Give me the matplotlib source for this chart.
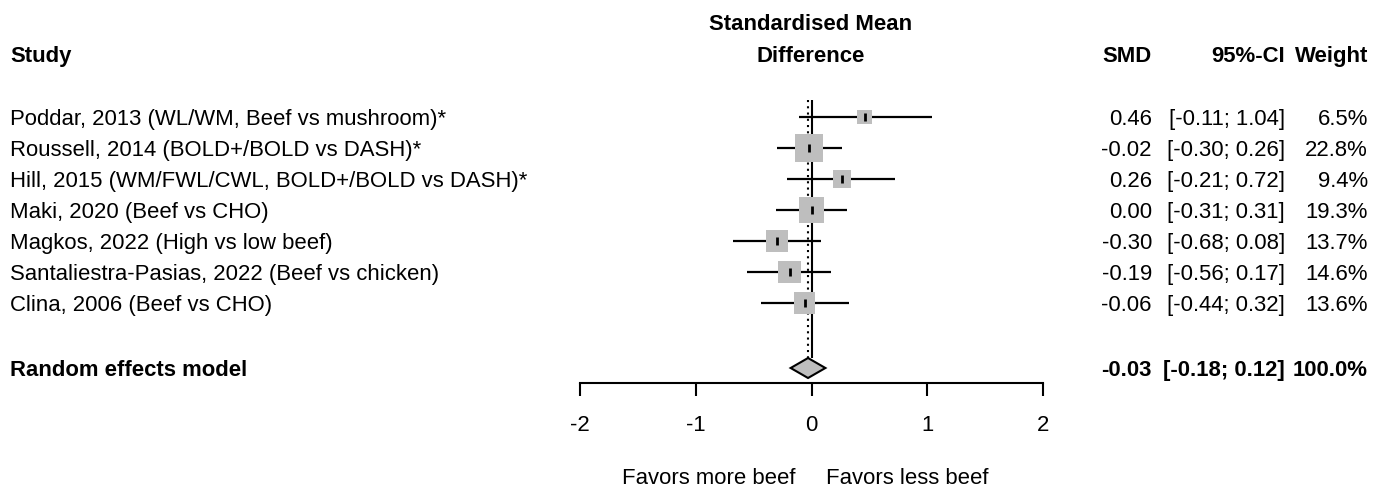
import numpy as np
import matplotlib.pyplot as plt
from matplotlib.transforms import blended_transform_factory
from matplotlib.patches import Polygon

plt.rcParams['font.family'] = ['Liberation Sans', 'DejaVu Sans']

studies = ["Poddar, 2013 (WL/WM, Beef vs mushroom)*",
           "Roussell, 2014 (BOLD+/BOLD vs DASH)*",
           "Hill, 2015 (WM/FWL/CWL, BOLD+/BOLD vs DASH)*",
           "Maki, 2020 (Beef vs CHO)",
           "Magkos, 2022 (High vs low beef)",
           "Santaliestra-Pasias, 2022 (Beef vs chicken)",
           "Clina, 2006 (Beef vs CHO)"]
smd = [0.46, -0.02, 0.26, 0.00, -0.30, -0.19, -0.06]
lower = [-0.11, -0.30, -0.21, -0.31, -0.68, -0.56, -0.44]
upper = [1.04, 0.26, 0.72, 0.31, 0.08, 0.17, 0.32]
weight = [6.5, 22.8, 9.4, 19.3, 13.7, 14.6, 13.6]

re_label = "Random effects model"
re_smd, re_lo, re_hi = -0.03, -0.18, 0.12
xticks = [-2, -1, 0, 1, 2]

W, H = 1376, 491
fig = plt.figure(figsize=(W / 100, H / 100), dpi=100)

# forest panel: x from -2 (580px) to 2 (1043px), top 95px, axis line at 383px
ax = fig.add_axes([580 / W, (H - 383) / H, 463 / W, (383 - 95) / H])
row_px = 31.0
ytop = (95 - 117) / row_px
ybot = (383 - 117) / row_px
ax.set_xlim(-2, 2)
ax.set_ylim(ybot, ytop)
ax.patch.set_visible(False)
for s in ['top', 'left', 'right']:
    ax.spines[s].set_visible(False)
ax.spines['bottom'].set_linewidth(1.5)
ax.set_yticks([])
ax.set_xticks(xticks)
ax.set_xticklabels([str(t) for t in xticks])
fs = 15.9
ax.tick_params(axis='x', direction='out', length=9, width=1.5, pad=14, labelsize=fs)

rows = np.arange(len(studies))
re_row = (368 - 117) / row_px
line_top = (100 - 117) / row_px
line_bot = (358 - 117) / row_px

ax.vlines(0, line_top, line_bot, color='black', lw=1.5)
ax.vlines(re_smd, line_top, line_bot, color='black', lw=1.5, linestyles=(0, (1, 2)))

ax.hlines(rows, lower, upper, color='black', lw=1.6, zorder=2)
side_px = 28 * np.sqrt(np.array(weight) / 22.8)
ax.scatter(smd, rows, marker='s', s=(side_px * 0.72) ** 2, color='#bebebe',
           linewidths=0, zorder=3)
ax.scatter(smd, rows, marker='|', s=30, color='black', linewidths=2, zorder=4)

# diamond for pooled estimate
dh = 10 / row_px
diamond = Polygon([[re_lo, re_row], [re_smd, re_row - dh], [re_hi, re_row], [re_smd, re_row + dh]],
                  closed=True, facecolor='#bebebe', edgecolor='black', lw=1.5, zorder=3)
ax.add_patch(diamond)

# text columns
tr = blended_transform_factory(fig.transFigure, ax.transData)
x_study = 10 / W
x_smd = 1152 / W
x_ci = 1285 / W
x_w = 1368 / W
va = 'center_baseline'
for i, name in enumerate(studies):
    ax.text(x_study, i, name, transform=tr, ha='left', va=va, fontsize=fs)
    ax.text(x_smd, i, f"{smd[i]:.2f}", transform=tr, ha='right', va=va, fontsize=fs)
    ax.text(x_ci, i, f"[{lower[i]:.2f}; {upper[i]:.2f}]", transform=tr, ha='right', va=va, fontsize=fs)
    ax.text(x_w, i, f"{weight[i]:.1f}%", transform=tr, ha='right', va=va, fontsize=fs)

ax.text(x_study, re_row, re_label, transform=tr, ha='left', va=va, fontsize=fs, weight='bold')
ax.text(x_smd, re_row, f"{re_smd:.2f}", transform=tr, ha='right', va=va, fontsize=fs, weight='bold')
ax.text(x_ci, re_row, f"[{re_lo:.2f}; {re_hi:.2f}]", transform=tr, ha='right', va=va, fontsize=fs, weight='bold')
ax.text(x_w, re_row, "100.0%", transform=tr, ha='right', va=va, fontsize=fs, weight='bold')

# headers
def fy(px):
    return 1 - px / H

fig.text(811 / W, fy(22), "Standardised Mean", ha='center', va=va, fontsize=fs, weight='bold')
fig.text(811 / W, fy(54), "Difference", ha='center', va=va, fontsize=fs, weight='bold')
fig.text(x_study, fy(54), "Study", ha='left', va=va, fontsize=fs, weight='bold')
fig.text(x_smd, fy(54), "SMD", ha='right', va=va, fontsize=fs, weight='bold')
fig.text(x_ci, fy(54), "95%-CI", ha='right', va=va, fontsize=fs, weight='bold')
fig.text(x_w, fy(54), "Weight", ha='right', va=va, fontsize=fs, weight='bold')

# direction labels
trx = blended_transform_factory(ax.transData, fig.transFigure)
ax.text(-0.14, fy(476), "Favors more beef", transform=trx, ha='right', va=va, fontsize=fs)
ax.text(0.125, fy(476), "Favors less beef", transform=trx, ha='left', va=va, fontsize=fs)

fig.savefig("out.png", dpi=100)
